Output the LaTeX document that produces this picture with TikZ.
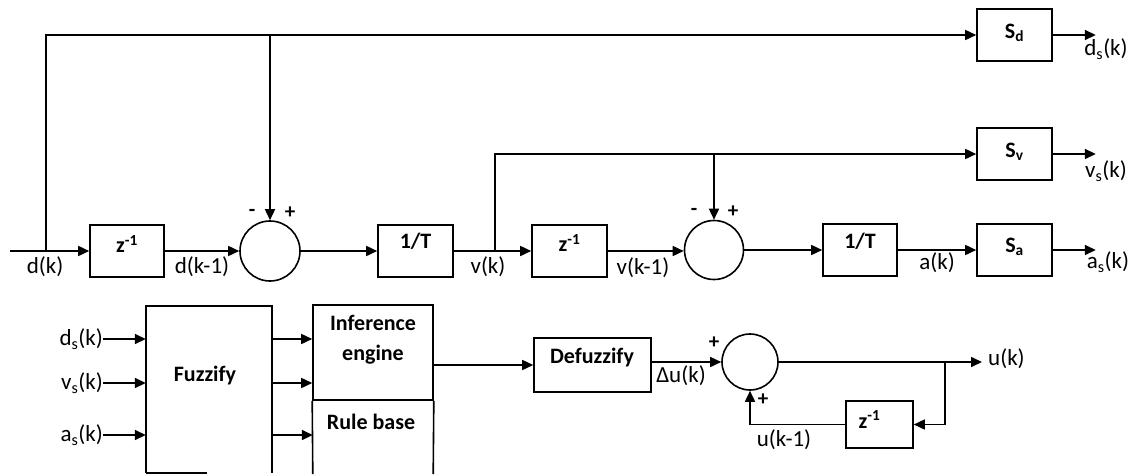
\documentclass[tikz,border=0pt]{standalone}
\usepackage{fontspec}
\setmainfont{Carlito}
\usetikzlibrary{arrows.meta,calc}
\begin{document}
\begin{tikzpicture}[x=1pt,y=-1pt,
  ln/.style={line width=1.6pt},
  arr/.style={line width=1.6pt,-{Triangle[length=11pt,width=10pt]}},
  blk/.style={draw,line width=1.6pt,inner sep=0pt},
  sumc/.style={draw,circle,line width=1.6pt,inner sep=0pt},
  lbl/.style={font=\fontsize{23}{27}\selectfont,inner sep=0pt},
  btxt/.style={font=\bfseries\fontsize{22}{26}\selectfont,inner sep=0pt},
  sgn/.style={font=\bfseries\fontsize{21}{24}\selectfont,inner sep=0pt}]
\useasboundingbox (0,0) rectangle (1138,474);
\fill[white] (0,0) rectangle (1138,474);

% ---------- upper chain ----------
\coordinate (in) at (10,251);
\coordinate (b1) at (46,251);
\node[blk,minimum width=74pt,minimum height=52pt] (z1) at (127,251) {};
\node[sumc,minimum size=60pt] (s1) at (270,251) {};
\node[blk,minimum width=75pt,minimum height=52pt] (t1) at (415.5,251) {};
\coordinate (vb) at (495,251);
\node[blk,minimum width=75pt,minimum height=52pt] (z2) at (569.5,251) {};
\node[sumc,minimum size=59pt] (s2) at (714,250) {};
\node[blk,minimum width=74pt,minimum height=52pt] (t2) at (860,250) {};
\node[blk,minimum width=75pt,minimum height=52pt] (sa) at (1014.5,250) {};
\node[blk,minimum width=75pt,minimum height=52pt] (sv) at (1014.5,154) {};
\node[blk,minimum width=75pt,minimum height=52pt] (sd) at (1014.5,35) {};

\node[btxt] at ($(z1)+(0,-7)$) {z\textsuperscript{-1}};
\node[btxt] at ($(t1)+(0,-10)$) {1/T};
\node[btxt] at ($(z2)+(0,-8)$) {z\textsuperscript{-1}};
\node[btxt] at ($(t2)+(0,-9)$) {1/T};
\node[btxt] at ($(sa)+(0,-3)$) {S\textsubscript{a}};
\node[btxt] at ($(sv)+(0,-2)$) {S\textsubscript{v}};
\node[btxt] at ($(sd)+(0,-2)$) {S\textsubscript{d}};

\draw[arr] (in) -- (z1.west);
\draw[arr] (b1) |- (sd.west);
\draw[arr] (s1.north |- sd.west) -- (s1.north);
\draw[arr] (z1.east) -- (s1.west);
\draw[arr] (s1.east) -- (t1.west);
\draw[arr] (t1.east) -- (z2.west);
\draw[arr] (vb) |- (sv.west);
\draw[arr] (s2.north |- sv.west) -- (s2.north);
\draw[arr] (z2.east) -- (z2.east -| s2.west);
\draw[arr] (s2.east) -- (t2.west);
\draw[arr] (t2.east) -- (sa.west);
\draw[arr] (sd.east) -- ++(43,0) coordinate (dso);
\draw[arr] (sv.east) -- ++(43,0) coordinate (vso);
\draw[arr] (sa.east) -- ++(43,0) coordinate (aso);

\node[sgn] at (252,213) {-};
\node[sgn] at (290,213) {+};
\node[sgn] at (694,212) {-};
\node[sgn] at (733,212) {+};

\node[lbl] (ldk) at (45,267) {d(k)};
\node[lbl] (ldk1) at (202,267) {d(k-1)};
\node[lbl] (lvk) at (488,267) {v(k)};
\node[lbl] (lvk1) at (643,268) {v(k-1)};
\node[lbl] (lak) at (937,263) {a(k)};
\node[lbl] (lds) at (1106,49) {d\textsubscript{s}(k)};
\node[lbl] (lvs) at (1106,171) {v\textsubscript{s}(k)};
\node[lbl] (las) at (1108,262) {a\textsubscript{s}(k)};

% ---------- fuzzy controller ----------
\node[minimum width=126pt,minimum height=167pt,inner sep=0pt] (fz) at (209,389.5) {};
\draw[ln] (fz.south west) -- (fz.north west) -- (fz.north east) -- (fz.south east);
\draw[ln] (fz.south west) -- ++(61,0);
\node[btxt] at (205,376) {Fuzzify};

\node[blk,minimum width=120pt,minimum height=95pt] (ie) at (373,352.5) {};
\node[minimum width=120pt,minimum height=74pt,inner sep=0pt] (rb) at (373,437) {};
\draw[ln] (ie.south west) -- (rb.south west);
\draw[ln] (ie.south east) -- (rb.south east);
\node[btxt,align=center,font=\bfseries\fontsize{22}{30}\selectfont] at (373,340) {Inference\\engine};
\node[btxt] at (371,422) {Rule base};

\node[lbl,anchor=east] (ids) at (103,339) {d\textsubscript{s}(k)};
\node[lbl,anchor=east] (ivs) at (103,383) {v\textsubscript{s}(k)};
\node[lbl,anchor=east] (ias) at (103,435) {a\textsubscript{s}(k)};
\draw[arr] (ids.east) -- (ids.east -| fz.west);
\draw[arr] (ivs.east) -- (ivs.east -| fz.west);
\draw[arr] (ias.east) -- (ias.east -| fz.west);
\draw[arr] (fz.east |- ids.east) -- (ie.west |- ids.east);
\draw[arr] (fz.east |- ivs.east) -- (ie.west |- ivs.east);
\draw[arr] (fz.east |- ias.east) -- (rb.west |- ias.east);

\node[blk,minimum width=117pt,minimum height=54pt] (dz) at (592.5,365) {};
\node[btxt] at (592,358) {Defuzzify};
\draw[arr] (ie.east |- dz) -- (dz.west);

\node[sumc,minimum size=56pt] (s3) at (750,362) {};
\draw[arr] (dz.east |- s3) -- (s3.west);
\draw[arr] (s3.east) -- (982,362) coordinate (uo);
\node[lbl,anchor=west] (luk) at (988,359) {u(k)};
\coordinate (ub) at (945,362);
\node[blk,minimum width=67pt,minimum height=47pt] (z3) at (879.5,424.5) {};
\node[btxt] at ($(z3)+(-10,-5)$) {z\textsuperscript{-1}};
\draw[arr] (ub) |- (z3.east);
\draw[arr] (z3.west) -| (s3.south);

\node[sgn] at (714,343) {+};
\node[sgn] at (763,400) {+};
\node[lbl] (ldu) at (681,376) {Δu(k)};
\node[lbl] (luk1) at (784,440) {u(k-1)};
\end{tikzpicture}
\end{document}
